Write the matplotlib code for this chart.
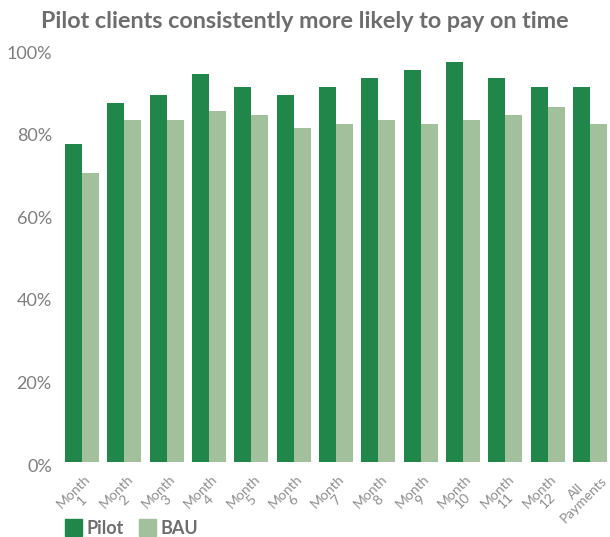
import matplotlib
matplotlib.use("Agg")
import matplotlib.pyplot as plt
import numpy as np
from matplotlib.patches import Patch
import matplotlib.transforms as mtrans

categories = ["Month\n1", "Month\n2", "Month\n3", "Month\n4", "Month\n5", "Month\n6",
              "Month\n7", "Month\n8", "Month\n9", "Month\n10", "Month\n11", "Month\n12",
              "All\nPayments"]
pilot = [77, 87, 89, 94, 91, 89, 91, 93, 95, 97, 93, 91, 91]
bau = [70, 83, 83, 85, 84, 81, 82, 83, 82, 83, 84, 86, 82]
yticks = [0, 20, 40, 60, 80, 100]

plt.rcParams['font.family'] = ['Lato', 'DejaVu Sans']
c_pilot = "#218649"
c_bau = "#a3c09d"
gray = "#7f7f7f"

W, H = 610, 537
fig = plt.figure(figsize=(W / 100, H / 100), dpi=100)
left_px, right_px, bot_px, top_px = 60.8, 611.2, 462, 49.5
ax = fig.add_axes([left_px / W, (H - bot_px) / H, (right_px - left_px) / W, (bot_px - top_px) / H])
x = np.arange(len(categories))
w = 0.40
ax.bar(x - w/2, pilot, width=w, color=c_pilot, label="Pilot")
ax.bar(x + w/2, bau, width=w, color=c_bau, label="BAU")
ax.set_xlim(-0.5, len(categories) - 0.5)
ax.set_ylim(0, 100)
ax.tick_params(axis="y", length=0, pad=6.5)
ax.tick_params(axis="x", length=0, pad=0)
ax.set_yticks(yticks)
ylabs = ax.set_yticklabels([f"{v}%" for v in yticks], fontsize=13, color=gray)
yoff = mtrans.ScaledTranslation(0, -3/100, fig.dpi_scale_trans)
for lab in ylabs:
    lab.set_transform(lab.get_transform() + yoff)
ax.set_xticks(x)
labels = ax.set_xticklabels(categories, rotation=45, ha="center", va="center",
                            rotation_mode="anchor", multialignment="center",
                            fontsize=10, color="#8e8e8e", linespacing=0.95)
for i, lab in enumerate(labels):
    dx = -4 if i < len(labels) - 1 else -10
    off = mtrans.ScaledTranslation(dx/100, -34/100, fig.dpi_scale_trans)
    lab.set_transform(lab.get_transform() + off)
for s in ax.spines.values():
    s.set_visible(False)
fig.text(0.5, 1 - 21/H, "Pilot clients consistently more likely to pay on time",
         ha="center", va="center", fontsize=16.8, fontweight="bold", color="#6d6d6d")
handles = [Patch(color=c_pilot, label="Pilot"), Patch(color=c_bau, label="BAU")]
fig.legend(handles=handles, loc="lower left", bbox_to_anchor=(0.08, -0.03), ncol=2,
           frameon=False, handlelength=0.95, handleheight=1.05,
           handletextpad=0.25, columnspacing=0.8, labelcolor="#6d6d6d",
           prop={'weight': 'bold', 'size': 13})
fig.savefig("out.png", dpi=100)
